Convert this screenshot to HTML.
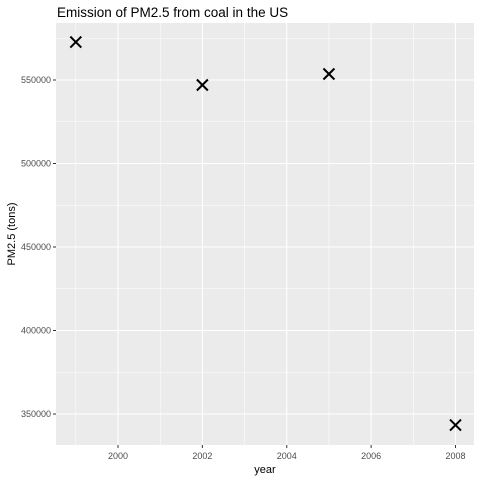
<!DOCTYPE html>
<html><head><meta charset="utf-8"><style>body{margin:0;background:#fff}svg{display:block}</style></head>
<body>
<svg id="chart" width="480" height="480" xmlns="http://www.w3.org/2000/svg" font-family="Liberation Sans, sans-serif"></svg>
<script>
const years = [1999, 2002, 2005, 2008];
const emissions = [572700, 547000, 553600, 343400];
const xTicks = [2000, 2002, 2004, 2006, 2008];
const yTicks = [350000, 400000, 450000, 500000, 550000];
const svg = document.getElementById('chart');
const NS = 'http://www.w3.org/2000/svg';
const L = 56, R = 474, T = 23, B = 445;
const x = v => 118 + (v - 2000) * (455.5 - 118) / 8;
const y = v => 414 + (v - 350000) * (80 - 414) / 200000;
function mk(tag, attrs, parent) {
  const e = document.createElementNS(NS, tag);
  for (const k in attrs) e.setAttribute(k, attrs[k]);
  (parent || svg).appendChild(e);
  return e;
}
const panel = mk('rect', {x: L, y: T, width: R - L, height: B - T, fill: '#ebebeb'});


// minor grid
for (let v = 1999; v <= 2009; v += 2) { if (x(v) > L && x(v) < R) mk('line', {x1: x(v), x2: x(v), y1: T, y2: B, stroke: '#fff', 'stroke-width': 0.55}); }
for (let v = 325000; v <= 575000; v += 50000) { if (y(v) > T && y(v) < B) mk('line', {x1: L, x2: R, y1: y(v), y2: y(v), stroke: '#fff', 'stroke-width': 0.55}); }
// major grid + ticks
xTicks.forEach(v => {
  const g = mk('line', {x1: x(v), x2: x(v), y1: T, y2: B, stroke: '#fff', 'stroke-width': 1.1});
  
  
  mk('line', {x1: x(v), x2: x(v), y1: B, y2: B + 3, stroke: '#333', 'stroke-width': 1});
  const t = mk('text', {x: x(v), y: B + 14, 'text-anchor': 'middle', 'font-size': 9, fill: '#4d4d4d'});
  t.textContent = v;
  
  
});
yTicks.forEach(v => {
  const g = mk('line', {x1: L, x2: R, y1: y(v), y2: y(v), stroke: '#fff', 'stroke-width': 1.1});
  
  
  mk('line', {x1: L - 3, x2: L, y1: y(v), y2: y(v), stroke: '#333', 'stroke-width': 1});
  const t = mk('text', {x: L - 5, y: y(v) + 3, 'text-anchor': 'end', 'font-size': 9, fill: '#4d4d4d'});
  t.textContent = v;
  
  
});
years.forEach((yr, i) => {
  const cx = x(yr), cy = y(emissions[i]), s = 5.5;
  const p = mk('path', {d: `M${cx-s},${cy-s}L${cx+s},${cy+s}M${cx-s},${cy+s}L${cx+s},${cy-s}`, stroke: '#000', 'stroke-width': 2});
  
  
});
const title = mk('text', {x: 57, y: 17, 'font-size': 13.5, fill: '#000'});
title.textContent = 'Emission of PM2.5 from coal in the US';


const xl = mk('text', {x: (L + R) / 2, y: 473, 'text-anchor': 'middle', 'font-size': 11, fill: '#000'});
xl.textContent = 'year';


const yl = mk('text', {x: 0, y: 0, 'text-anchor': 'middle', 'font-size': 11, fill: '#000', transform: `translate(15,${(T + B) / 2}) rotate(-90)`});
yl.textContent = 'PM2.5 (tons)';


</script>
</body></html>
